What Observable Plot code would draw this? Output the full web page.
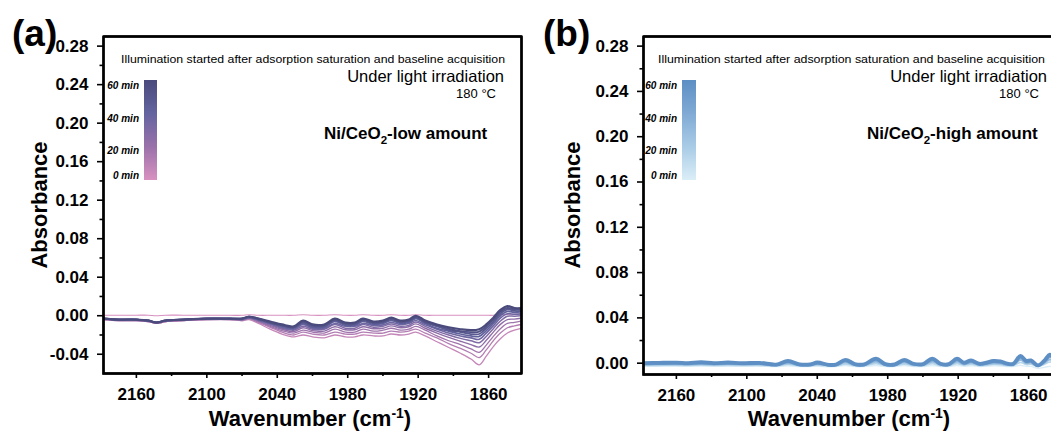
<!DOCTYPE html>
<html><head><meta charset="utf-8">
<script src="https://cdn.jsdelivr.net/npm/d3@7"></script>
<script src="https://cdn.jsdelivr.net/npm/@observablehq/plot@0.6"></script>
<style>
html,body{margin:0;padding:0;background:#fff;overflow:hidden;width:1051px;height:432px;}
#wrap{position:relative;width:1051px;height:432px;overflow:hidden;}
.panel{position:absolute;top:0;height:432px;}
.panel svg{max-width:none !important;display:block;}
</style></head><body><div id="wrap"></div>
<script>
// ---------------- data ----------------
const xMajorTicks = [2160, 2100, 2040, 1980, 1920, 1860];
const xMinorTicks = [2130, 2070, 2010, 1950, 1890];
const yMajorTicksA = [-0.04, 0, 0.04, 0.08, 0.12, 0.16, 0.2, 0.24, 0.28];
const yMinorTicksA = [-0.02, 0.02, 0.06, 0.1, 0.14, 0.18, 0.22, 0.26];
const yMajorTicksB = [0, 0.04, 0.08, 0.12, 0.16, 0.2, 0.24, 0.28];
const yMinorTicksB = [0.02, 0.06, 0.1, 0.14, 0.18, 0.22, 0.26];
const legendLabels = ["60 min", "40 min", "20 min", "0 min"];

// Panel (a): Ni/CeO2-low amount
const wnA = [2188,2175,2160,2150,2143,2135,2120,2100,2080,2070,2064,2056,2046,2036,2026,2018,2010,2000,1991,1982,1974,1967,1958,1950,1943,1935,1928,1922,1914,1904,1894,1884,1875,1868,1862,1856,1850,1844,1838,1832];
const timesA = [0,6,12,18,24,30,36,42,48,54,60];
const a_t0  = [0.0005,0.0005,0.0005,0.0005,0,0.0005,0.0005,0.0005,0.0005,0.0005,0.001,0.0005,0.0005,0.0005,0.0005,0.001,0.0005,0.0005,0.001,0.0005,0.0005,0.001,0.0005,0.0005,0.001,0.0005,0.0005,0.001,0.0005,0.0005,0.0005,0.0005,0.0005,0.0005,0.0005,0.0005,0.001,0.0015,0.0015,0.0015];
const a_t6  = [-0.004,-0.005,-0.005,-0.006,-0.008,-0.006,-0.005,-0.004,-0.004,-0.005,-0.004,-0.008,-0.014,-0.019,-0.022,-0.020,-0.022,-0.023,-0.020,-0.022,-0.022,-0.020,-0.021,-0.021,-0.019,-0.020,-0.019,-0.017,-0.021,-0.027,-0.033,-0.039,-0.045,-0.051,-0.042,-0.032,-0.024,-0.018,-0.015,-0.013];
const a_t12 = [-0.004,-0.005,-0.005,-0.006,-0.008,-0.006,-0.005,-0.004,-0.004,-0.005,-0.003,-0.007,-0.012,-0.017,-0.020,-0.017,-0.019,-0.020,-0.017,-0.019,-0.019,-0.017,-0.018,-0.018,-0.016,-0.017,-0.016,-0.014,-0.018,-0.023,-0.029,-0.034,-0.039,-0.0435,-0.0355,-0.026,-0.018,-0.0125,-0.0105,-0.009];
const a_t18 = [-0.004,-0.005,-0.005,-0.006,-0.008,-0.006,-0.005,-0.004,-0.004,-0.004,-0.003,-0.006,-0.011,-0.0155,-0.018,-0.015,-0.017,-0.018,-0.014,-0.017,-0.017,-0.014,-0.016,-0.015,-0.013,-0.015,-0.014,-0.011,-0.015,-0.021,-0.026,-0.030,-0.0345,-0.038,-0.0305,-0.0215,-0.0135,-0.008,-0.007,-0.0055];
const a_t24 = [-0.0035,-0.0045,-0.0045,-0.0055,-0.0075,-0.0055,-0.0045,-0.0035,-0.0035,-0.004,-0.0025,-0.0055,-0.010,-0.014,-0.0165,-0.0125,-0.0155,-0.016,-0.0115,-0.0145,-0.0145,-0.0115,-0.0135,-0.013,-0.0105,-0.0125,-0.0115,-0.0085,-0.013,-0.018,-0.0225,-0.0265,-0.030,-0.0325,-0.0255,-0.017,-0.009,-0.004,-0.0035,-0.0025];
const a_t30 = [-0.003,-0.004,-0.004,-0.005,-0.007,-0.005,-0.004,-0.003,-0.003,-0.004,-0.002,-0.005,-0.009,-0.013,-0.015,-0.011,-0.014,-0.014,-0.009,-0.013,-0.013,-0.009,-0.012,-0.011,-0.0085,-0.011,-0.010,-0.0065,-0.011,-0.016,-0.020,-0.0235,-0.026,-0.028,-0.0215,-0.0135,-0.0055,-0.0005,-0.0005,0];
const a_t36 = [-0.003,-0.004,-0.004,-0.005,-0.007,-0.005,-0.004,-0.003,-0.003,-0.004,-0.002,-0.004,-0.008,-0.012,-0.014,-0.009,-0.013,-0.013,-0.008,-0.011,-0.011,-0.008,-0.010,-0.0095,-0.007,-0.009,-0.008,-0.005,-0.0095,-0.014,-0.018,-0.021,-0.023,-0.0245,-0.018,-0.0105,-0.0025,0.002,0.0015,0.002];
const a_t42 = [-0.003,-0.004,-0.004,-0.005,-0.007,-0.005,-0.004,-0.003,-0.003,-0.003,-0.002,-0.004,-0.008,-0.011,-0.013,-0.008,-0.012,-0.012,-0.006,-0.010,-0.010,-0.006,-0.009,-0.008,-0.005,-0.008,-0.007,-0.003,-0.008,-0.013,-0.016,-0.019,-0.021,-0.0215,-0.0155,-0.008,0,0.0045,0.0035,0.004];
const a_t48 = [-0.003,-0.004,-0.004,-0.005,-0.007,-0.005,-0.004,-0.003,-0.003,-0.003,-0.001,-0.004,-0.007,-0.010,-0.012,-0.007,-0.011,-0.011,-0.005,-0.009,-0.009,-0.005,-0.008,-0.007,-0.004,-0.007,-0.006,-0.002,-0.007,-0.011,-0.015,-0.017,-0.019,-0.019,-0.013,-0.006,0.002,0.0065,0.005,0.005];
const a_t54 = [-0.003,-0.004,-0.004,-0.005,-0.007,-0.005,-0.004,-0.003,-0.003,-0.003,-0.001,-0.003,-0.007,-0.010,-0.012,-0.006,-0.010,-0.010,-0.004,-0.008,-0.008,-0.004,-0.007,-0.006,-0.003,-0.006,-0.005,-0.001,-0.006,-0.010,-0.0135,-0.016,-0.017,-0.0165,-0.011,-0.004,0.004,0.008,0.0065,0.0065];
const a_t60 = [-0.003,-0.004,-0.004,-0.005,-0.007,-0.005,-0.004,-0.003,-0.003,-0.003,-0.001,-0.003,-0.006,-0.009,-0.011,-0.005,-0.009,-0.009,-0.003,-0.007,-0.007,-0.003,-0.006,-0.005,-0.002,-0.005,-0.004,0,-0.005,-0.009,-0.012,-0.014,-0.015,-0.014,-0.009,-0.002,0.006,0.010,0.008,0.008];
const seriesA = [a_t0,a_t6,a_t12,a_t18,a_t24,a_t30,a_t36,a_t42,a_t48,a_t54,a_t60];

// Panel (b): Ni/CeO2-high amount
const wnB = [2188,2175,2160,2150,2139,2128,2116,2104,2089,2075,2065,2055,2046,2040,2030,2024,2016,2008,2000,1990,1982,1974,1966,1958,1950,1942,1935,1928,1921,1915,1909,1902,1896,1890,1884,1878,1873,1867,1862,1858,1852,1846,1842,1837,1832];
const timesB = [0,15,30,45,60];
const b_t0  = [-0.0028,-0.0027,-0.0027,-0.0028,-0.0026,-0.0028,-0.0027,-0.0028,-0.0027,-0.003,-0.0024,-0.003,-0.003,-0.0027,-0.0031,-0.003,-0.0022,-0.003,-0.003,-0.002,-0.003,-0.003,-0.0022,-0.0029,-0.003,-0.002,-0.0029,-0.003,-0.002,-0.0027,-0.0023,-0.0029,-0.0027,-0.0024,-0.0025,-0.0029,-0.003,-0.0018,-0.0028,-0.0028,-0.0045,-0.0035,-0.0028,-0.0038,-0.0046];
const b_t15 = [-0.002,-0.0019,-0.0018,-0.002,-0.0017,-0.002,-0.0018,-0.002,-0.0019,-0.0025,-0.0012,-0.0024,-0.0024,-0.0018,-0.0026,-0.0025,-0.0008,-0.0023,-0.0024,-0.0004,-0.0023,-0.0024,-0.0008,-0.0022,-0.0023,-0.0004,-0.0022,-0.0023,-0.0004,-0.0018,-0.001,-0.0022,-0.0018,-0.0012,-0.0014,-0.0022,-0.0022,0.0006,-0.0012,-0.001,-0.0028,-0.0008,0.001,-0.0004,-0.0016];
const b_t30 = [-0.0012,-0.001,-0.0009,-0.0012,-0.0007,-0.0012,-0.0008,-0.0012,-0.001,-0.0019,0,-0.0018,-0.0018,-0.0008,-0.0021,-0.0019,0.0006,-0.0017,-0.0018,0.0012,-0.0017,-0.0018,0.0006,-0.0015,-0.0017,0.0012,-0.0015,-0.0017,0.0012,-0.0009,0.0003,-0.0015,-0.0009,0,-0.0003,-0.0015,-0.0015,0.0027,0,0.0003,-0.0024,0.0006,0.0033,0.0012,-0.0006];
const b_t45 = [-0.0005,-0.0003,-0.0001,-0.0005,0.0002,-0.0005,0,-0.0005,-0.0003,-0.0015,0.0012,-0.0014,-0.0014,0,-0.0018,-0.0015,0.002,-0.0012,-0.0014,0.0029,-0.0012,-0.0014,0.002,-0.0009,-0.0012,0.0029,-0.0009,-0.0012,0.0029,-0.0001,0.0016,-0.0009,-0.0001,0.0012,0.0008,-0.0009,-0.0009,0.005,0.0012,0.0016,-0.0022,0.002,0.0059,0.0029,0.0004];
const b_t60 = [0,0.0003,0.0005,0,0.0008,0,0.0006,0,0.0003,-0.0012,0.002,-0.001,-0.001,0.0006,-0.0015,-0.0012,0.003,-0.0008,-0.001,0.004,-0.0008,-0.001,0.003,-0.0005,-0.0008,0.004,-0.0005,-0.0008,0.004,0.0005,0.0025,-0.0005,0.0005,0.002,0.0015,-0.0005,-0.0005,0.0065,0.002,0.0025,-0.002,0.003,0.0075,0.004,0.001];
const seriesB = [b_t0,b_t15,b_t30,b_t45,b_t60];

// ---------------- drawing ----------------
const FONT = "'Liberation Sans', Arial, Helvetica, sans-serif";
const X_DOMAIN = [2188, 1832];

function buildPanel(cfg) {
  const color = d3.scaleLinear().domain([0, 20, 40, 60]).range(cfg.colors);
  const marks = [];
  cfg.series.forEach((vals, k) => {
    const t = cfg.times[k];
    const rows = cfg.wn.map((w, i) => ({wn: w, abs: vals[i]}));
    marks.push(Plot.line(rows, {x: "wn", y: "abs", stroke: color(t), strokeWidth: cfg.widths[k], curve: "catmull-rom", clip: true}));
  });
  marks.push(Plot.frame({stroke: "black", strokeWidth: 2.2}));
  marks.push(Plot.axisX(xMajorTicks, {tickSize: 5, tickPadding: 9, fontSize: 17, fontWeight: "bold", tickFormat: d => String(d), strokeWidth: 1.6, label: null}));
  marks.push(Plot.axisX(xMinorTicks, {tickSize: 3, tickFormat: () => "", strokeWidth: 1.6, label: null}));
  marks.push(Plot.axisY(cfg.yMajor, {tickSize: 6, tickPadding: 9, fontSize: 17, fontWeight: "bold", tickFormat: d => d.toFixed(2), strokeWidth: 1.6, label: null}));
  marks.push(Plot.axisY(cfg.yMinor, {tickSize: 3.5, tickFormat: () => "", strokeWidth: 1.6, label: null}));
  // frame outline as a closed line through the domain corners (through the scales)
  const [x0, x1] = X_DOMAIN, [y0, y1] = cfg.yDomain;
  const corners = [{wn: x0, abs: y0}, {wn: x1, abs: y0}, {wn: x1, abs: y1}, {wn: x0, abs: y1}, {wn: x0, abs: y0}];
  marks.push(Plot.line(corners, {x: "wn", y: "abs", stroke: "#000", strokeWidth: 2.4, strokeLinejoin: "miter", strokeLinecap: "square"}));

  const svg = Plot.plot({
    width: cfg.width, height: 432,
    marginLeft: cfg.mL, marginRight: cfg.mR, marginTop: cfg.mT, marginBottom: cfg.mB,
    x: {domain: X_DOMAIN},
    y: {domain: cfg.yDomain},
    style: {fontFamily: FONT, color: "black", background: "white", overflow: "visible", maxWidth: "none"},
    marks
  });
  svg.style.maxWidth = "none";
  const S = d3.select(svg);
  S.selectAll('g[aria-label="x-axis tick label"], g[aria-label="y-axis tick label"]').attr("font-weight", "bold").attr("font-size", 17);

  const o = cfg.offset;
  const g = S.append("g").attr("font-family", FONT).attr("fill", "black").attr("text-anchor", "start");
  function txt(x, y, s, size, opt = {}) {
    const t = g.append("text").attr("x", x - o).attr("y", y).attr("font-size", size)
      .attr("font-weight", opt.weight || "normal").attr("font-style", opt.italic ? "italic" : "normal")
      .attr("text-anchor", opt.anchor || "start");
    if (opt.rotate) t.attr("transform", `rotate(${opt.rotate},${x - o},${y})`);
    if (opt.parts) opt.parts.forEach(p => {
      const ts = t.append("tspan").text(p.text);
      if (p.dy) ts.attr("dy", p.dy);
      if (p.size) ts.attr("font-size", p.size);
    });
    else t.text(s);
    if (opt.textLength) t.attr("textLength", opt.textLength).attr("lengthAdjust", "spacingAndGlyphs");
    return t;
  }
  txt(cfg.letterX, 46, cfg.letter, 37, {weight: "bold"});
  txt(cfg.illumEnd, 63, "Illumination started after adsorption saturation and baseline acquisition", 11, {anchor: "end", textLength: cfg.illumLen});
  txt(cfg.underEnd, 82, "Under light irradiation", 16.5, {anchor: "end"});
  txt(cfg.tempEnd, 98, "180 \u00B0C", 13, {anchor: "end"});
  txt(cfg.sampleX, 139, "", 17, {weight: "bold", parts: [
    {text: "Ni/CeO"}, {text: "2", dy: 5, size: 11.5}, {text: cfg.sampleSuffix, dy: -5}
  ]});
  txt(cfg.yTitleX, 205, "Absorbance", 22, {weight: "bold", anchor: "middle", rotate: -90});
  txt(cfg.xTitleX, 426, "", 22, {weight: "bold", anchor: "middle", parts: [
    {text: "Wavenumber (cm"}, {text: "-1", dy: -8, size: 14}, {text: ")", dy: 8}
  ]});
  const gid = "grad" + cfg.letter.replace(/\W/g, "");
  const grad = S.append("defs").append("linearGradient").attr("id", gid)
    .attr("x1", 0).attr("y1", 1).attr("x2", 0).attr("y2", 0);
  [0, 20, 40, 60].forEach((t, i) => grad.append("stop").attr("offset", t / 60).attr("stop-color", cfg.colors[i]));
  g.append("rect").attr("x", cfg.barX - o).attr("y", 80).attr("width", cfg.barW).attr("height", 100).attr("fill", `url(#${gid})`);
  const labY = [89, 122, 154, 179];
  legendLabels.forEach((s, i) => txt(cfg.barX - 5, labY[i], s, 10, {weight: "bold", italic: true, anchor: "end"}));

  const div = document.createElement("div");
  div.className = "panel";
  div.style.left = o + "px";
  div.style.width = cfg.width + "px";
  div.appendChild(svg);
  document.getElementById("wrap").appendChild(div);
}

buildPanel({
  letter: "(a)", letterX: 12, offset: 0, width: 530, mL: 103, mR: 9, mT: 36, mB: 59,
  yDomain: [-0.06, 0.29], yMajor: yMajorTicksA, yMinor: yMinorTicksA,
  wn: wnA, times: timesA, series: seriesA,
  widths: [1.2,1.3,1.3,1.3,1.4,1.5,1.6,1.7,1.8,1.9,2.1],
  colors: ["#d891c0", "#9a71aa", "#6464a0", "#4a4a7c"],
  illumEnd: 505, illumLen: 384, underEnd: 504, tempEnd: 496, sampleX: 324, sampleSuffix: "-low amount",
  yTitleX: 47, xTitleX: 310, barX: 144, barW: 13
});
buildPanel({
  letter: "(b)", letterX: 543, offset: 530, width: 540, mL: 113, mR: 9, mT: 36, mB: 58,
  yDomain: [-0.01, 0.2885], yMajor: yMajorTicksB, yMinor: yMinorTicksB,
  wn: wnB, times: timesB, series: seriesB,
  widths: [1.4, 1.6, 2, 2.8, 3.8],
  colors: ["#dbeef7", "#a9cbe6", "#80aad5", "#5d8fc4"],
  illumEnd: 1045, illumLen: 387, underEnd: 1047, tempEnd: 1039, sampleX: 867, sampleSuffix: "-high amount",
  yTitleX: 580, xTitleX: 849, barX: 682, barW: 14
});
</script></body></html>
